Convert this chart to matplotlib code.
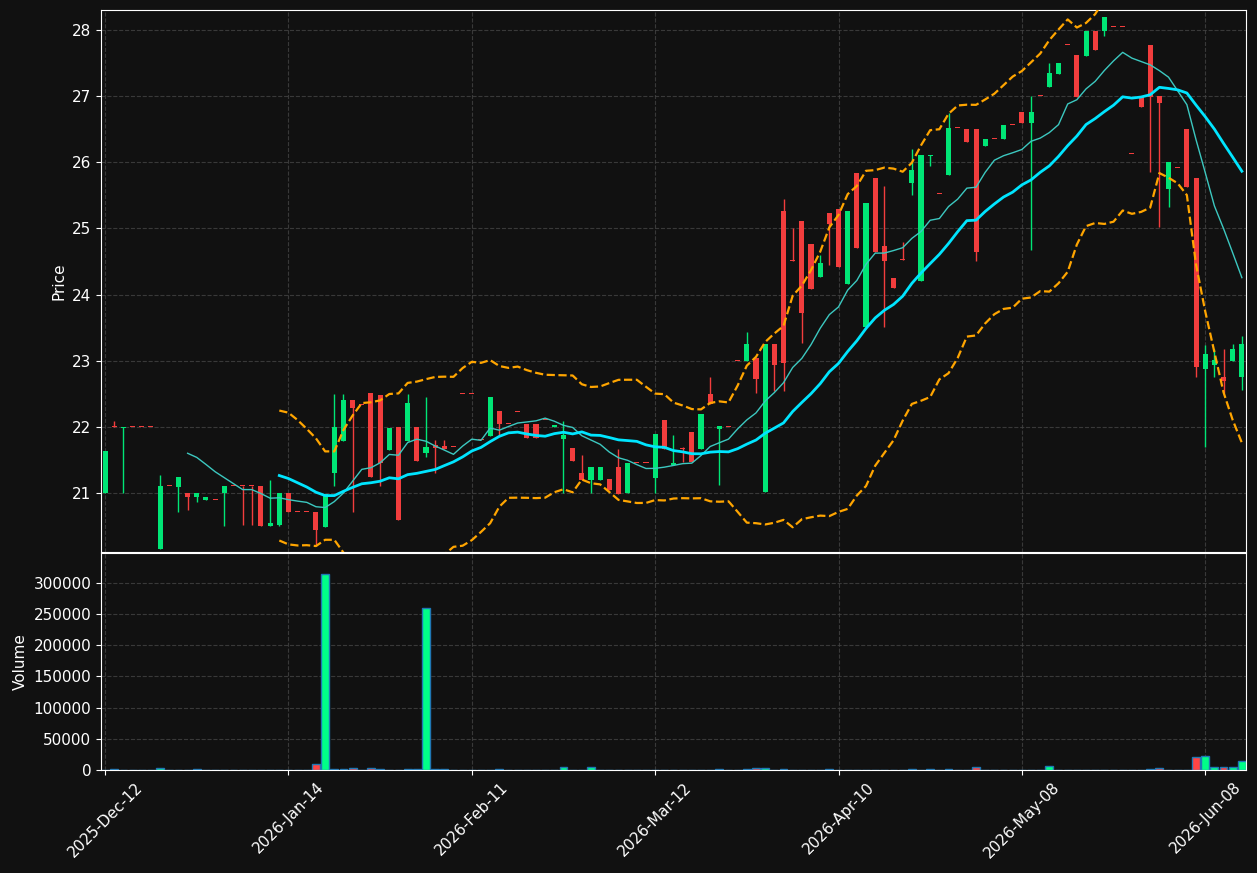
import numpy as np
import pandas as pd
import matplotlib
matplotlib.use("Agg")
import matplotlib.pyplot as plt

# OHLC, one entry per trading day
opens = [21.00, 22.01, 21.98, 22.00, 22.00, 22.00, 20.16, 21.10, 21.09, 21.00,
         20.94, 20.90, 20.90, 21.00, 21.10, 21.10, 21.10, 21.10, 20.50, 20.52,
         21.00, 20.72, 20.71, 20.71, 20.49, 21.31, 21.78, 22.40, 22.33, 22.52,
         22.48, 21.65, 22.00, 21.79, 22.00, 21.60, 21.73, 21.71, 21.69, 22.50,
         22.50, 21.80, 21.87, 22.24, 22.04, 22.22, 22.04, 22.04, 22.10, 22.00,
         21.82, 21.68, 21.30, 21.20, 21.20, 21.21, 21.39, 21.00, 21.45, 21.45,
         21.23, 22.10, 21.42, 21.68, 21.92, 21.67, 22.50, 21.97, 22.00, 23.00,
         23.00, 23.04, 21.02, 23.25, 25.26, 24.51, 25.11, 24.76, 24.27, 25.24,
         25.30, 24.16, 25.83, 23.51, 25.76, 24.74, 24.25, 24.52, 25.69, 24.21,
         26.09, 25.52, 25.81, 26.51, 26.50, 26.50, 26.25, 26.35, 26.35, 26.56,
         26.76, 26.60, 27.00, 27.14, 27.34, 27.77, 27.62, 27.60, 27.99, 27.99,
         28.05, 28.05, 26.13, 27.00, 27.77, 27.00, 25.60, 25.92, 26.50, 25.76,
         22.88, 22.94, 22.75, 23.00, 22.76]
highs = [21.63, 22.09, 22.00, 22.00, 22.00, 22.00, 21.27, 21.10, 21.25, 21.00,
         21.00, 20.94, 20.90, 21.10, 21.10, 21.10, 21.10, 21.10, 21.20, 21.00,
         21.00, 20.72, 20.71, 20.71, 20.98, 22.50, 22.50, 22.40, 22.33, 22.52,
         22.48, 21.98, 22.00, 22.49, 22.00, 22.45, 21.80, 21.80, 21.69, 22.50,
         22.50, 21.80, 22.45, 22.24, 22.04, 22.22, 22.04, 22.04, 22.10, 22.03,
         22.09, 21.68, 21.57, 21.39, 21.39, 21.21, 21.66, 21.45, 21.45, 21.45,
         21.90, 22.10, 21.88, 21.69, 21.92, 22.20, 22.76, 22.02, 22.00, 23.00,
         23.43, 23.04, 23.25, 23.25, 25.45, 25.00, 25.11, 24.76, 24.60, 25.24,
         25.30, 25.26, 25.83, 25.39, 25.76, 25.64, 24.25, 24.80, 26.20, 26.11,
         26.11, 25.52, 26.75, 26.51, 26.50, 26.50, 26.35, 26.35, 26.56, 26.56,
         26.76, 27.00, 27.00, 27.50, 27.50, 27.77, 27.62, 27.99, 27.99, 28.20,
         28.05, 28.05, 26.13, 27.00, 27.77, 27.00, 26.00, 25.92, 26.50, 25.76,
         23.24, 23.17, 23.17, 23.25, 23.38]
lows = [21.00, 22.00, 21.00, 22.00, 22.00, 22.00, 20.16, 21.10, 20.71, 20.75,
        20.87, 20.90, 20.90, 20.50, 21.10, 20.52, 20.52, 20.50, 20.50, 20.50,
        20.72, 20.72, 20.71, 20.20, 20.49, 21.10, 21.78, 20.72, 22.33, 21.25,
        21.11, 21.65, 20.59, 21.79, 21.49, 21.55, 21.30, 21.67, 21.69, 22.50,
        22.50, 21.80, 21.87, 21.88, 22.04, 22.22, 21.84, 21.84, 22.10, 22.00,
        21.00, 21.48, 21.20, 21.00, 21.20, 21.05, 20.98, 21.00, 21.45, 21.45,
        21.00, 21.66, 21.42, 21.47, 21.47, 21.67, 22.34, 21.12, 22.00, 23.00,
        23.00, 22.51, 21.02, 22.55, 22.55, 24.50, 23.27, 24.09, 24.27, 24.45,
        24.41, 24.16, 24.71, 23.51, 24.64, 23.51, 24.10, 24.52, 25.50, 24.21,
        25.95, 25.52, 25.81, 26.51, 26.30, 24.51, 26.25, 26.35, 26.35, 26.56,
        26.60, 24.67, 27.00, 27.14, 27.34, 27.77, 26.99, 27.60, 27.70, 27.90,
        28.05, 28.05, 26.13, 26.84, 25.85, 25.02, 25.32, 25.92, 25.62, 22.75,
        21.70, 22.75, 22.51, 23.00, 22.56]
closes = [21.63, 22.00, 22.00, 22.00, 22.00, 22.00, 21.10, 21.10, 21.25, 20.94,
          21.00, 20.94, 20.90, 21.10, 21.10, 21.10, 21.10, 20.50, 20.55, 21.00,
          20.72, 20.72, 20.71, 20.44, 20.98, 22.00, 22.40, 22.29, 22.33, 21.25,
          21.46, 21.98, 20.59, 22.36, 21.49, 21.69, 21.68, 21.67, 21.69, 22.50,
          22.50, 21.80, 22.45, 22.04, 22.04, 22.22, 21.84, 21.84, 22.10, 22.03,
          21.88, 21.48, 21.20, 21.39, 21.39, 21.05, 20.98, 21.45, 21.45, 21.45,
          21.90, 21.66, 21.46, 21.66, 21.47, 22.20, 22.34, 22.02, 22.00, 23.00,
          23.25, 22.72, 23.25, 22.94, 22.96, 24.50, 23.72, 24.09, 24.47, 25.07,
          24.41, 25.26, 24.71, 25.39, 24.64, 24.51, 24.10, 24.52, 25.88, 26.11,
          26.11, 25.52, 26.52, 26.51, 26.30, 24.65, 26.35, 26.35, 26.56, 26.56,
          26.60, 26.76, 27.00, 27.35, 27.50, 27.77, 26.99, 27.99, 27.70, 28.20,
          28.05, 28.05, 26.13, 26.84, 26.99, 26.90, 26.00, 25.92, 25.62, 22.90,
          23.10, 23.01, 22.69, 23.17, 23.25]
volumes = [300, 1600, 300, 300, 300, 0, 3200, 300, 300, 300,
           1600, 300, 0, 300, 300, 300, 300, 300, 300, 300,
           300, 0, 0, 10000, 315000, 1600, 1600, 3200, 0, 3200,
           1600, 0, 300, 1600, 1600, 260000, 1600, 1600, 0, 0,
           0, 300, 300, 1600, 0, 0, 0, 0, 0, 0,
           5400, 0, 0, 5400, 0, 300, 300, 300, 0, 0,
           300, 0, 300, 300, 0, 300, 0, 1600, 0, 0,
           1600, 3200, 3200, 300, 1600, 300, 0, 300, 300, 1600,
           300, 0, 300, 0, 300, 0, 300, 0, 1600, 300,
           1600, 0, 1600, 0, 0, 4800, 0, 0, 0, 0,
           0, 0, 0, 6400, 300, 0, 0, 300, 0, 300,
           0, 0, 0, 0, 1600, 3200, 0, 0, 300, 20900,
           22500, 4800, 4800, 4800, 14500]

tick_labels = ["2025-Dec-12", "2026-Jan-14", "2026-Feb-11", "2026-Mar-12",
               "2026-Apr-10", "2026-May-08", "2026-Jun-08"]

df = pd.DataFrame({"Open": opens, "High": highs, "Low": lows,
                   "Close": closes, "Volume": volumes})
df["ma10"] = df["Close"].rolling(10).mean()
df["ma20"] = df["Close"].rolling(20).mean()
std20 = df["Close"].rolling(20).std()
df["upper"] = df["ma20"] + 2 * std20
df["lower"] = df["ma20"] - 2 * std20

bg = "#111111"
up_c = "#00e676"
down_c = "#f23d3d"
grid_kw = dict(color="#444444", linestyle="--", linewidth=0.8, alpha=0.8)

fig = plt.figure(figsize=(12.57, 8.73), dpi=100, facecolor=bg)
ax = fig.add_axes([101 / 1257, 1 - 552 / 873, 1145 / 1257, 542 / 873])
axv = fig.add_axes([101 / 1257, 1 - 770 / 873, 1145 / 1257, 217 / 873], sharex=ax)

x = np.arange(len(df))
up = df["Close"] > df["Open"]
colors = np.where(up, up_c, down_c)

# candles
ax.vlines(x, df["Low"], df["High"], colors=colors, linewidth=1.0, zorder=2)
body = (df["Close"] - df["Open"]).abs().clip(lower=0.015)
bottom = df[["Open", "Close"]].min(axis=1)
ax.bar(x, body, bottom=bottom, width=0.55, color=colors, zorder=3)

ax.plot(x, df["ma10"], color="#3cc8c0", linewidth=1.0, zorder=4)
ax.plot(x, df["ma20"], color="#00e5ff", linewidth=2.0, zorder=4)
ax.plot(x, df["upper"], color="orange", linestyle="--", linewidth=1.6, zorder=4)
ax.plot(x, df["lower"], color="orange", linestyle="--", linewidth=1.6, zorder=4)

ax.set_ylim(20.11, 28.30)
ax.set_xlim(-0.45, 124.45)
ax.set_ylabel("Price", color="white", fontsize=11)

# volume
vcolors = np.where(up, "#00ff88", "#ff4444")
axv.bar(x, df["Volume"], width=0.85, color=vcolors, edgecolor="#1f77b4",
        linewidth=1.0)
axv.set_ylim(0, 348000)
axv.set_ylabel("Volume", color="white", fontsize=11)
axv.set_xticks(np.arange(0, len(df), 20))
axv.set_xticklabels(tick_labels, rotation=45)

for a in (ax, axv):
    a.set_facecolor(bg)
    for s in a.spines.values():
        s.set_color("white")
    a.tick_params(colors="white", labelsize=11)
    a.grid(True, **grid_kw)
    a.set_axisbelow(True)
ax.tick_params(axis="x", labelbottom=False)

fig.savefig("out.png", dpi=100, facecolor=bg)
